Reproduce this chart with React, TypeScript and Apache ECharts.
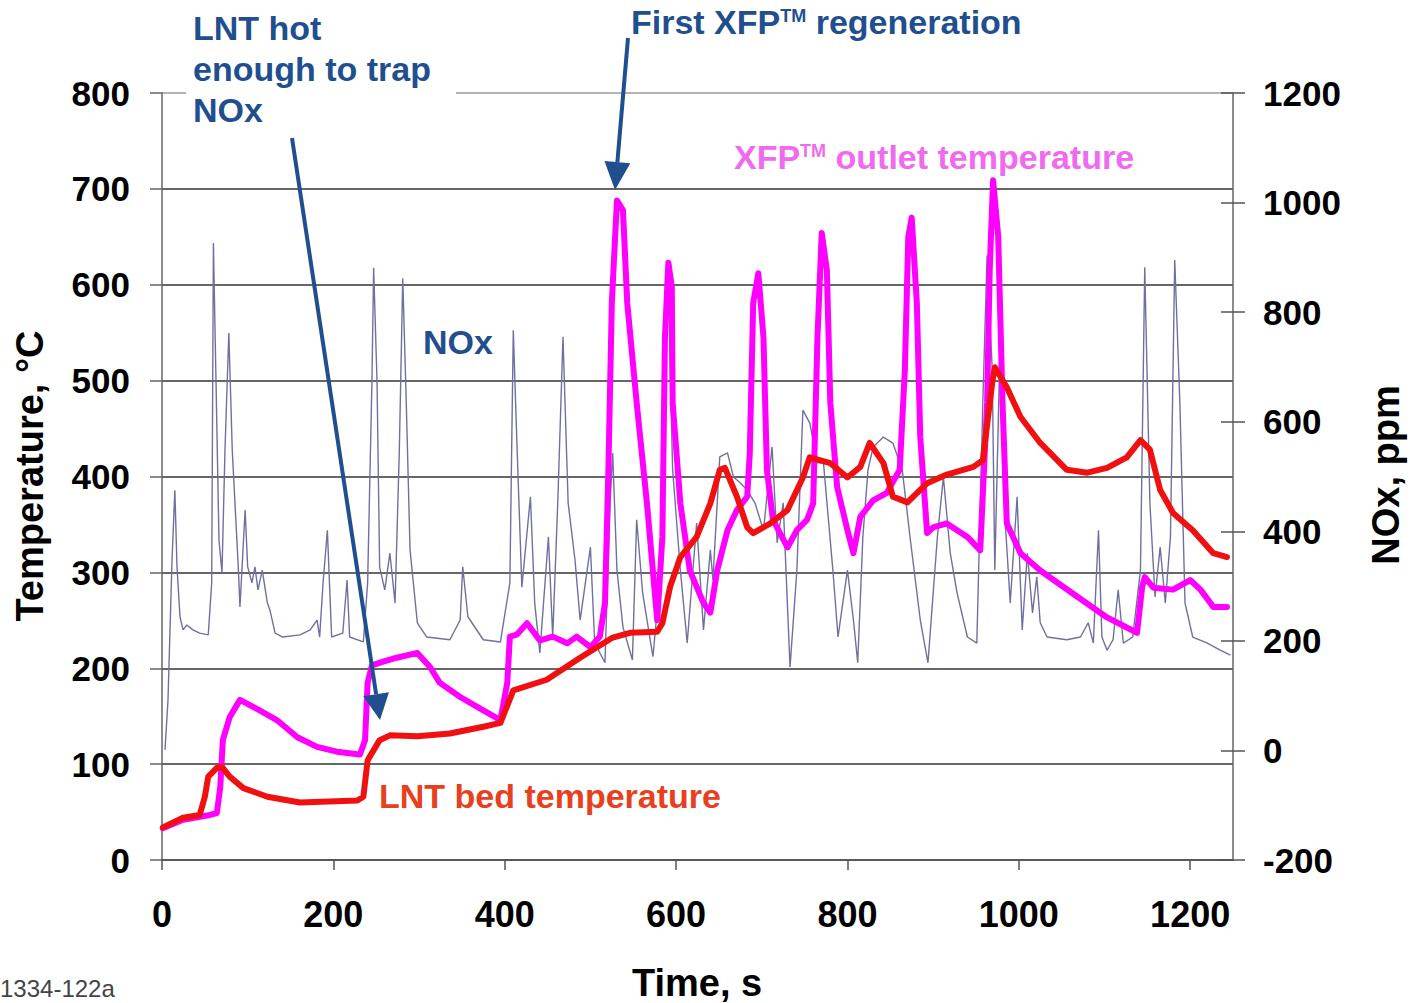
import React, { useEffect, useRef } from "react";
import * as echarts from "echarts";

// [time s, °C]
const lntBedTemp: [number, number][] = [
  [1, 34], [24.5, 44], [44, 47], [50, 66], [54, 87], [64, 96], [70, 97], [79, 87], [95, 75],
  [123, 66], [161, 60], [228, 62], [235, 66], [240, 104], [254, 125], [266, 130], [298, 129],
  [336, 132], [375, 139], [395, 143], [410, 177], [449, 188], [488, 211], [526, 232], [546, 237],
  [578, 238], [584, 247], [593, 285], [605, 316], [624, 337], [640, 372], [651, 407], [657, 409],
  [671, 379], [683, 347], [690, 341], [710, 351], [730, 365], [748, 399], [756, 420], [780, 414],
  [800, 399], [815, 410], [826, 435], [842, 414], [853, 379], [870, 373], [893, 393], [916, 402],
  [947, 410], [958, 417], [969, 498], [972, 514], [986, 493], [1002, 462], [1025, 435],
  [1056, 407], [1080, 404], [1103, 409], [1126, 420], [1142, 438], [1153, 428], [1165, 386],
  [1180, 362], [1203, 344], [1227, 320], [1243, 316],
];

// [time s, °C]
const xfpOutletTemp: [number, number][] = [
  [1, 33], [24.5, 42], [56, 47], [64, 49], [68, 76], [71, 125], [79, 149], [91, 167], [114, 156],
  [134, 146], [158, 128], [181, 118], [204, 113], [231, 110], [237, 125], [240, 185], [245, 203],
  [258, 207], [274, 211], [298, 216], [313, 201], [324, 185], [348, 170], [375, 156], [395, 146],
  [403, 185], [406, 233], [414, 235], [426, 247], [441, 229], [456, 233], [473, 226], [484, 233],
  [500, 222], [511, 233], [517, 268], [521, 407], [525, 581], [531, 688], [538, 678], [543, 581],
  [554, 477], [566, 372], [578, 250], [584, 337], [587, 545], [591, 623], [595, 598], [596, 477],
  [605, 372], [616, 302], [632, 268], [640, 258], [648, 302], [660, 344], [671, 365], [683, 379],
  [686, 424], [690, 581], [696, 612], [702, 545], [706, 407], [713, 355], [730, 326], [741, 344],
  [753, 355], [760, 372], [765, 545], [770, 654], [776, 615], [780, 477], [788, 389], [800, 344],
  [807, 320], [815, 358], [830, 375], [846, 383], [861, 407], [867, 511], [871, 650], [875, 670],
  [881, 581], [885, 441], [893, 341], [900, 347], [916, 351], [940, 337], [955, 323], [963, 477],
  [966, 615], [970, 709], [976, 650], [981, 477], [986, 351], [1002, 320], [1025, 302],
  [1063, 278], [1103, 253], [1138, 237], [1144, 285], [1147, 295], [1157, 284], [1180, 282],
  [1200, 292], [1212, 282], [1227, 264], [1243, 264],
];

// [time s, ppm]
const noxPpm: [number, number][] = [
  [3.5, 1], [7, 92], [11.7, 348], [15, 475], [17.5, 335], [21, 244], [24.5, 220], [29, 229],
  [36, 220], [44, 214], [54, 211], [58, 306], [60, 926], [63, 676], [66.5, 384], [70, 324],
  [73.5, 548], [78, 762], [82, 548], [89, 335], [91, 262], [97, 439], [100, 335], [105, 306],
  [108.5, 335], [112, 293], [117, 329], [123, 269], [126, 256], [132, 214], [141, 207],
  [161, 211], [173, 220], [181, 238], [184, 207], [188, 306], [193, 402], [198, 207], [211, 214],
  [216, 311], [219, 207], [235, 198], [240, 306], [245, 671], [247, 881], [251, 671], [254, 335],
  [260, 293], [266, 360], [272, 269], [277, 548], [281, 862], [285, 640], [289.5, 366],
  [298, 233], [309, 207], [336, 202], [348, 238], [351, 335], [357, 244], [375, 202], [395, 198],
  [406, 306], [410, 767], [414, 572], [420, 298], [430, 463], [435, 269], [441, 178], [451, 390],
  [456, 207], [462, 457], [468, 755], [474, 452], [482, 348], [488, 238], [500, 371], [505, 196],
  [517, 160], [523, 452], [526, 543], [531, 329], [538, 225], [549, 165], [554, 421], [561, 287],
  [573, 171], [584, 360], [587, 640], [591, 855], [594, 640], [596, 512], [605, 329], [613, 196],
  [624, 415], [632, 220], [640, 366], [643, 311], [651, 536], [660, 543], [667, 499], [675, 488],
  [683, 475], [692, 452], [702, 402], [712, 554], [718, 379], [725, 452], [733, 152], [741, 329],
  [748, 621], [756, 598], [765, 525], [772, 525], [783, 329], [789, 207], [800, 329], [807, 238],
  [812, 160], [818, 390], [824, 512], [830, 554], [842, 572], [853, 561], [864, 512], [873, 390],
  [885, 238], [894, 160], [905, 390], [912, 499], [920, 360], [928, 287], [940, 207], [951, 196],
  [958, 634], [963, 904], [969, 694], [972, 329], [978, 731], [984, 421], [990, 269], [998, 463],
  [1004, 220], [1010, 360], [1016, 251], [1021, 317], [1025, 233], [1033, 207], [1056, 202],
  [1072, 207], [1081, 233], [1087, 196], [1093, 402], [1097, 207], [1103, 183], [1110, 202],
  [1116, 293], [1122, 196], [1133, 207], [1142, 329], [1147, 882], [1153, 452], [1159, 280],
  [1165, 371], [1171, 269], [1177, 390], [1182, 895], [1188, 634], [1194, 269], [1203, 207],
  [1220, 196], [1235, 183], [1247, 174],
];

const timeTicks = [0, 200, 400, 600, 800, 1000, 1200];

const FONT = "'Liberation Sans', Arial, Helvetica, sans-serif";
const NAVY = "#1f4f8f";
const NOTE = 34;

function arrow(x1: number, y1: number, x2: number, y2: number, headLen: number, headHalf: number) {
  const dx = x2 - x1;
  const dy = y2 - y1;
  const len = Math.sqrt(dx * dx + dy * dy);
  const ux = dx / len;
  const uy = dy / len;
  const bx = x2 - ux * headLen;
  const by = y2 - uy * headLen;
  const px = -uy;
  const py = ux;
  return [
    {
      type: "line",
      z: 20,
      shape: { x1, y1, x2: bx, y2: by },
      style: { stroke: NAVY, lineWidth: 4 },
    },
    {
      type: "polygon",
      z: 20,
      shape: {
        points: [
          [x2, y2],
          [bx + px * headHalf, by + py * headHalf],
          [bx - px * headHalf, by - py * headHalf],
        ],
      },
      style: { fill: NAVY },
    },
  ];
}

const plain = (v: number) => String(v);

export default function App() {
  const ref = useRef<HTMLDivElement>(null);

  useEffect(() => {
    if (!ref.current) return;
    const chart = echarts.init(ref.current, undefined, { renderer: "svg" });

    const tickLabel = { color: "#000", fontWeight: "bold" as const, fontFamily: FONT, formatter: plain };

    chart.setOption({
      animation: false,
      backgroundColor: "#fff",
      grid: { left: 162, right: 177, top: 93, bottom: 143, containLabel: false },
      xAxis: {
        type: "value",
        min: 0,
        max: 1250,
        interval: 200,
        axisLine: { show: true, lineStyle: { color: "#555", width: 1.5 } },
        axisTick: { show: true, length: 10, customValues: timeTicks, lineStyle: { color: "#555", width: 1.5 } },
        axisLabel: { ...tickLabel, fontSize: 36, margin: 36, customValues: timeTicks },
        splitLine: { show: false },
      },
      yAxis: [
        {
          type: "value",
          position: "left",
          min: 0,
          max: 800,
          interval: 100,
          axisLine: { show: true, lineStyle: { color: "#666", width: 1.5 } },
          axisTick: { show: true, length: 12, lineStyle: { color: "#666", width: 1.5 } },
          axisLabel: { ...tickLabel, fontSize: 35, margin: 32 },
          splitLine: {
            show: true,
            lineStyle: {
              color: ["#333", "#333", "#333", "#333", "#333", "#333", "#333", "#333", "#999"],
              width: 1.5,
            },
          },
        },
        {
          type: "value",
          position: "right",
          min: -200,
          max: 1200,
          interval: 200,
          axisLine: { show: true, lineStyle: { color: "#666", width: 1.5 } },
          axisTick: { show: true, length: 12, lineStyle: { color: "#555", width: 1.5 } },
          axisLabel: { ...tickLabel, fontSize: 35, margin: 30 },
          splitLine: { show: false },
        },
        {
          // inner half of the NOx axis ticks
          type: "value",
          position: "right",
          min: -200,
          max: 1200,
          interval: 200,
          axisLine: { show: false },
          axisTick: { show: true, inside: true, length: 12, lineStyle: { color: "#555", width: 1.5 } },
          axisLabel: { show: false },
          splitLine: { show: false },
        },
      ],
      series: [
        {
          name: "NOx",
          type: "line",
          yAxisIndex: 1,
          data: noxPpm,
          showSymbol: false,
          z: 2,
          lineStyle: { color: "#7070a0", width: 1.4 },
        },
        {
          name: "XFP outlet temperature",
          type: "line",
          yAxisIndex: 0,
          data: xfpOutletTemp,
          showSymbol: false,
          z: 3,
          lineStyle: { color: "#ff00ff", width: 6, join: "round", cap: "round" },
        },
        {
          name: "LNT bed temperature",
          type: "line",
          yAxisIndex: 0,
          data: lntBedTemp,
          showSymbol: false,
          z: 4,
          lineStyle: { color: "#f01010", width: 6, join: "round", cap: "round" },
        },
      ],
      graphic: [
        // backing for the upper-left note, covers the top grid line
        { type: "rect", z: 15, shape: { x: 186, y: 0, width: 270, height: 128 }, style: { fill: "#fff" } },
        {
          type: "text",
          z: 21,
          x: 193,
          y: 7,
          style: {
            text: "LNT hot\nenough to trap\nNOx",
            fill: NAVY,
            font: `bold ${NOTE}px ${FONT}`,
            lineHeight: 41,
          },
        },
        ...arrow(292, 138, 380, 720, 26, 13),
        {
          type: "text",
          z: 21,
          x: 631,
          y: 3,
          style: {
            text: "{a|First XFP}{s|TM}{a| regeneration}",
            rich: {
              a: { fill: NAVY, font: `bold ${NOTE}px ${FONT}`, lineHeight: 38 },
              s: { fill: NAVY, font: `bold 18px ${FONT}`, lineHeight: 38, padding: [0, 0, 13, 0] },
            },
          },
        },
        ...arrow(628, 38, 615, 190, 28, 13),
        {
          type: "text",
          z: 21,
          x: 734,
          y: 138,
          style: {
            text: "{a|XFP}{s|TM}{a| outlet temperature}",
            rich: {
              a: { fill: "#f06af0", font: `bold ${NOTE}px ${FONT}`, lineHeight: 38 },
              s: { fill: "#f06af0", font: `bold 18px ${FONT}`, lineHeight: 38, padding: [0, 0, 13, 0] },
            },
          },
        },
        {
          type: "text",
          z: 21,
          x: 423,
          y: 325,
          style: { text: "NOx", fill: NAVY, font: `bold ${NOTE}px ${FONT}` },
        },
        {
          type: "text",
          z: 21,
          x: 379,
          y: 779,
          style: { text: "LNT bed temperature", fill: "#e8401f", font: `bold ${NOTE}px ${FONT}` },
        },
        {
          type: "text",
          z: 21,
          x: 30,
          y: 476,
          rotation: Math.PI / 2,
          style: {
            text: "Temperature, °C",
            fill: "#000",
            font: `bold 38px ${FONT}`,
            align: "center",
            verticalAlign: "middle",
          },
        },
        {
          type: "text",
          z: 21,
          x: 1386,
          y: 475,
          rotation: Math.PI / 2,
          style: {
            text: "NOx, ppm",
            fill: "#000",
            font: `bold 38px ${FONT}`,
            align: "center",
            verticalAlign: "middle",
          },
        },
        {
          type: "text",
          z: 21,
          x: 697,
          y: 983,
          style: {
            text: "Time, s",
            fill: "#000",
            font: `bold 38px ${FONT}`,
            align: "center",
            verticalAlign: "middle",
          },
        },
        {
          type: "text",
          z: 21,
          x: 0,
          y: 976,
          style: { text: "1334-122a", fill: "#444", font: `24px ${FONT}` },
        },
      ],
    });

    return () => chart.dispose();
  }, []);

  return (
    <div
      ref={ref}
      style={{ position: "fixed", left: 0, top: 0, width: 1410, height: 1003, background: "#fff" }}
    />
  );
}
